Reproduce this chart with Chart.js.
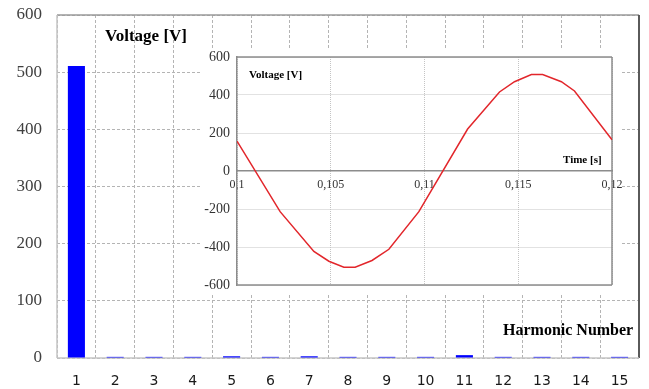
<!DOCTYPE html>
<html>
<head>
<meta charset="utf-8">
<script src="https://cdn.jsdelivr.net/npm/chart.js@4/dist/chart.umd.min.js"></script>
<style>
	html, body { margin: 0; padding: 0; background: #fff; }
	#wrap { position: relative; width: 649px; height: 389px; overflow: hidden; }
	#main { position: absolute; left: 0; top: 0; }
	#inset-box { position: absolute; left: 202px; top: 48px; width: 420px; height: 246px; background: #fff; }
	.lbl { position: absolute; font-family: "Liberation Serif", "Times New Roman", serif; font-weight: bold; color: #000; white-space: nowrap; line-height: 1; }
</style>
</head>
<body>
<div id="wrap">
	<canvas id="main" width="649" height="389"></canvas>
	<div class="lbl" style="left:105px; top:27px; font-size:17px;">Voltage [V]</div>
	<div class="lbl" style="left:503px; top:322px; font-size:16px;">Harmonic Number</div>
	<div id="inset-box"><canvas id="inset" width="420" height="246"></canvas></div>
	<div class="lbl" style="left:249px; top:69px; font-size:11px;">Voltage [V]</div>
	<div class="lbl" style="left:563px; top:154px; font-size:11px;">Time [s]</div>
</div>
<script>
// Spectre : numéro d'harmonique et amplitude (V)
const harmonicNumbers = ['1', '2', '3', '4', '5', '6', '7', '8', '9', '10', '11', '12', '13', '14', '15'];
const harmonicVoltages = [511, 2, 2, 2, 3, 2, 3, 2, 2, 2, 5, 2, 2, 2, 2];

// Forme d'onde dans l'encart : temps (s) et tension (V)
const timeValues = [0.1, 0.1023, 0.1041, 0.1049, 0.1057, 0.1063, 0.1072, 0.1081, 0.1097,
	0.1123, 0.1140, 0.1148, 0.1157, 0.1163, 0.1173, 0.1180, 0.12];
const voltageValues = [157, -214, -423, -475, -506, -506, -471, -412, -214,
	221, 416, 470, 508, 508, 470, 421, 164];

// Cadre autour de la zone de tracé (couleur par côté), dessiné sous les données
const framePlugin = {
	id: 'frame',
	beforeDatasetsDraw(chart, args, opts) {
		const { ctx, chartArea: a } = chart;
		const sides = [
			['top', a.left, a.top, a.right, a.top],
			['right', a.right, a.top, a.right, a.bottom],
			['bottom', a.left, a.bottom, a.right, a.bottom],
			['left', a.left, a.top, a.left, a.bottom]
		];
		ctx.save();
		sides.forEach(([name, x1, y1, x2, y2]) => {
			const s = opts[name];
			if (!s) return;
			ctx.strokeStyle = s.color;
			ctx.lineWidth = s.width;
			ctx.beginPath();
			ctx.moveTo(x1, y1);
			ctx.lineTo(x2, y2);
			ctx.stroke();
		});
		ctx.restore();
	}
};

function formatTime(v) {
	return Number(v.toFixed(3)).toString().replace('.', ',');
}

function createMainChart() {
	new Chart(document.getElementById('main'), {
		type: 'bar',
		data: {
			labels: harmonicNumbers,
			datasets: [{
				data: harmonicVoltages,
				backgroundColor: '#0000ff',
				barPercentage: 0.44,
				categoryPercentage: 1
			}]
		},
		options: {
			responsive: false,
			animation: false,
			devicePixelRatio: 1,
			layout: { padding: { top: 15, right: 10, bottom: 0, left: 0 } },
			plugins: {
				legend: { display: false },
				tooltip: { enabled: false },
				frame: {
					top: { color: '#9a9a9a', width: 1.5 },
					right: { color: '#5a5a5a', width: 2 },
					bottom: { color: '#c4c4c4', width: 1.5 },
					left: { color: '#c4c4c4', width: 1.5 }
				}
			},
			scales: {
				x: {
					grid: { color: '#b4b4b4', drawTicks: false, offset: true },
					border: { display: false, dash: [3, 2] },
					ticks: { font: { family: 'DejaVu Sans', size: 14 }, color: '#1a1a1a', padding: 15, maxRotation: 0 },
					afterFit(s) { s.height = 31; s.paddingLeft = 0; s.paddingRight = 0; }
				},
				y: {
					min: 0,
					max: 600,
					grid: { color: '#b4b4b4', drawTicks: false },
					border: { display: false, dash: [3, 2] },
					ticks: { stepSize: 100, font: { family: 'Liberation Serif', size: 17 }, color: '#404040', padding: 15 },
					afterFit(s) { s.width = 57; s.paddingTop = 0; s.paddingBottom = 0; }
				}
			}
		},
		plugins: [framePlugin]
	});
}

function createInsetChart() {
	const points = timeValues.map((t, i) => ({ x: t, y: voltageValues[i] }));

	new Chart(document.getElementById('inset'), {
		type: 'line',
		data: {
			datasets: [{
				data: points,
				borderColor: '#e2262b',
				borderWidth: 1.5,
				pointRadius: 0,
				tension: 0,
				fill: false
			}]
		},
		options: {
			responsive: false,
			animation: false,
			devicePixelRatio: 1,
			layout: { padding: { top: 9, right: 10, bottom: 9, left: 0 } },
			plugins: {
				legend: { display: false },
				tooltip: { enabled: false },
				frame: {
					top: { color: '#8c8c8c', width: 1.5 },
					right: { color: '#8c8c8c', width: 1.5 },
					bottom: { color: '#8c8c8c', width: 1.5 }
				}
			},
			scales: {
				x: {
					type: 'linear',
					position: { y: 0 },
					min: 0.1,
					max: 0.12,
					grid: { color: '#c4c4c4', drawTicks: false },
					border: { color: '#8c8c8c', width: 1.5, dash: [1, 1] },
					ticks: {
						stepSize: 0.005,
						autoSkip: false,
						maxRotation: 0,
						callback: (v) => formatTime(v),
						font: { family: 'Liberation Serif', size: 12 },
						color: '#333',
						padding: 7
					},
					afterFit(s) { s.paddingLeft = 0; s.paddingRight = 0; }
				},
				y: {
					min: -600,
					max: 600,
					grid: {
						color: (c) => (c.tick && c.tick.value === 0) ? 'rgba(0,0,0,0)' : '#c4c4c4',
						drawTicks: false
					},
					border: { color: '#8c8c8c', width: 1.5, dash: [1, 1] },
					ticks: { stepSize: 200, font: { family: 'Liberation Serif', size: 14 }, color: '#333', padding: 7 },
					afterFit(s) { s.width = 35; s.paddingTop = 0; s.paddingBottom = 0; }
				}
			}
		},
		plugins: [framePlugin]
	});
}

createMainChart();
createInsetChart();
</script>
</body>
</html>
